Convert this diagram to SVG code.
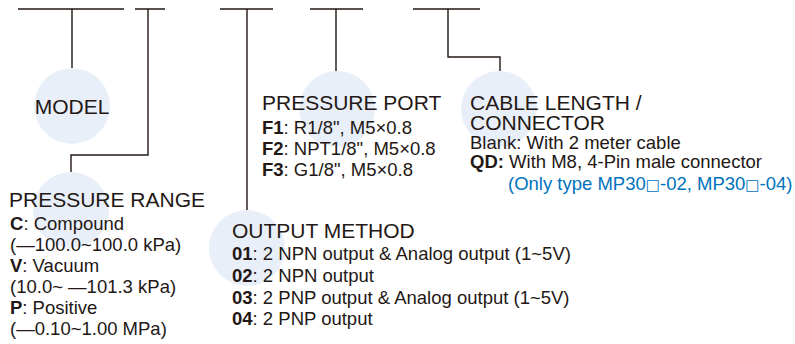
<svg xmlns="http://www.w3.org/2000/svg" width="795" height="344" viewBox="0 0 795 344">
<style>
.bg{fill:#ffffff}
.c{fill:#e9eff9}
.ln{fill:none;stroke:#231815;stroke-width:1.4}
.h{font-family:"Liberation Sans",Arial,sans-serif;font-size:21px;fill:#231815}
.t{font-family:"Liberation Sans",Arial,sans-serif;font-size:18.5px;fill:#231815}
.b{font-weight:bold}
.blue{fill:#0073bd}
.sq{font-family:"DejaVu Sans",sans-serif;font-size:15px}
</style>
<rect class="bg" x="0" y="0" width="795" height="344"/>
<g id="connectors">
<path class="ln" d="M18 9H124M72 9V68"/>
<path class="ln" d="M135 9H165M148 9V155H71V172"/>
<path class="ln" d="M220 9H273M247 9V210"/>
<path class="ln" d="M310 9H363M336 9V71"/>
<path class="ln" d="M413 9H480M448 9V57H500V71"/>
</g>
<g id="model">
<circle class="c" cx="72" cy="106" r="38"/>
<text class="h" x="72" y="114" text-anchor="middle">MODEL</text>
</g>
<g id="pressure-range">
<circle class="c" cx="71" cy="210" r="38"/>
<text class="h" x="9" y="207">PRESSURE RANGE</text>
<text class="t" x="10" y="230"><tspan class="b">C</tspan>: Compound</text>
<text class="t" x="10" y="251">(—100.0~100.0 kPa)</text>
<text class="t" x="10" y="272"><tspan class="b">V</tspan>: Vacuum</text>
<text class="t" x="10" y="293">(10.0~ —101.3 kPa)</text>
<text class="t" x="10" y="314"><tspan class="b">P</tspan>: Positive</text>
<text class="t" x="10" y="335">(—0.10~1.00 MPa)</text>
</g>
<g id="output-method">
<circle class="c" cx="247" cy="248" r="38"/>
<text class="h" x="232" y="238">OUTPUT METHOD</text>
<text class="t" x="232" y="260"><tspan class="b">01</tspan>: 2 NPN output &amp; Analog output (1~5V)</text>
<text class="t" x="232" y="282"><tspan class="b">02</tspan>: 2 NPN output</text>
<text class="t" x="232" y="303.5"><tspan class="b">03</tspan>: 2 PNP output &amp; Analog output (1~5V)</text>
<text class="t" x="232" y="325"><tspan class="b">04</tspan>: 2 PNP output</text>
</g>
<g id="pressure-port">
<circle class="c" cx="337" cy="109" r="38"/>
<text class="h" x="262" y="110">PRESSURE PORT</text>
<text class="t" x="262" y="134"><tspan class="b">F1</tspan>: R1/8", M5×0.8</text>
<text class="t" x="262" y="155"><tspan class="b">F2</tspan>: NPT1/8", M5×0.8</text>
<text class="t" x="262" y="176"><tspan class="b">F3</tspan>: G1/8", M5×0.8</text>
</g>
<g id="cable-length">
<circle class="c" cx="499" cy="109" r="38"/>
<text class="h" x="470" y="110">CABLE LENGTH /<tspan x="470" dy="19.5">CONNECTOR</tspan></text>
<text class="t" x="470" y="148.5">Blank: With 2 meter cable</text>
<text class="t" x="470" y="168"><tspan class="b">QD:</tspan> With M8, 4-Pin male connector</text>
<text class="t blue" x="508" y="190">(Only type MP30<tspan class="sq">□</tspan>-02, MP30<tspan class="sq">□</tspan>-04)</text>
</g>
</svg>
